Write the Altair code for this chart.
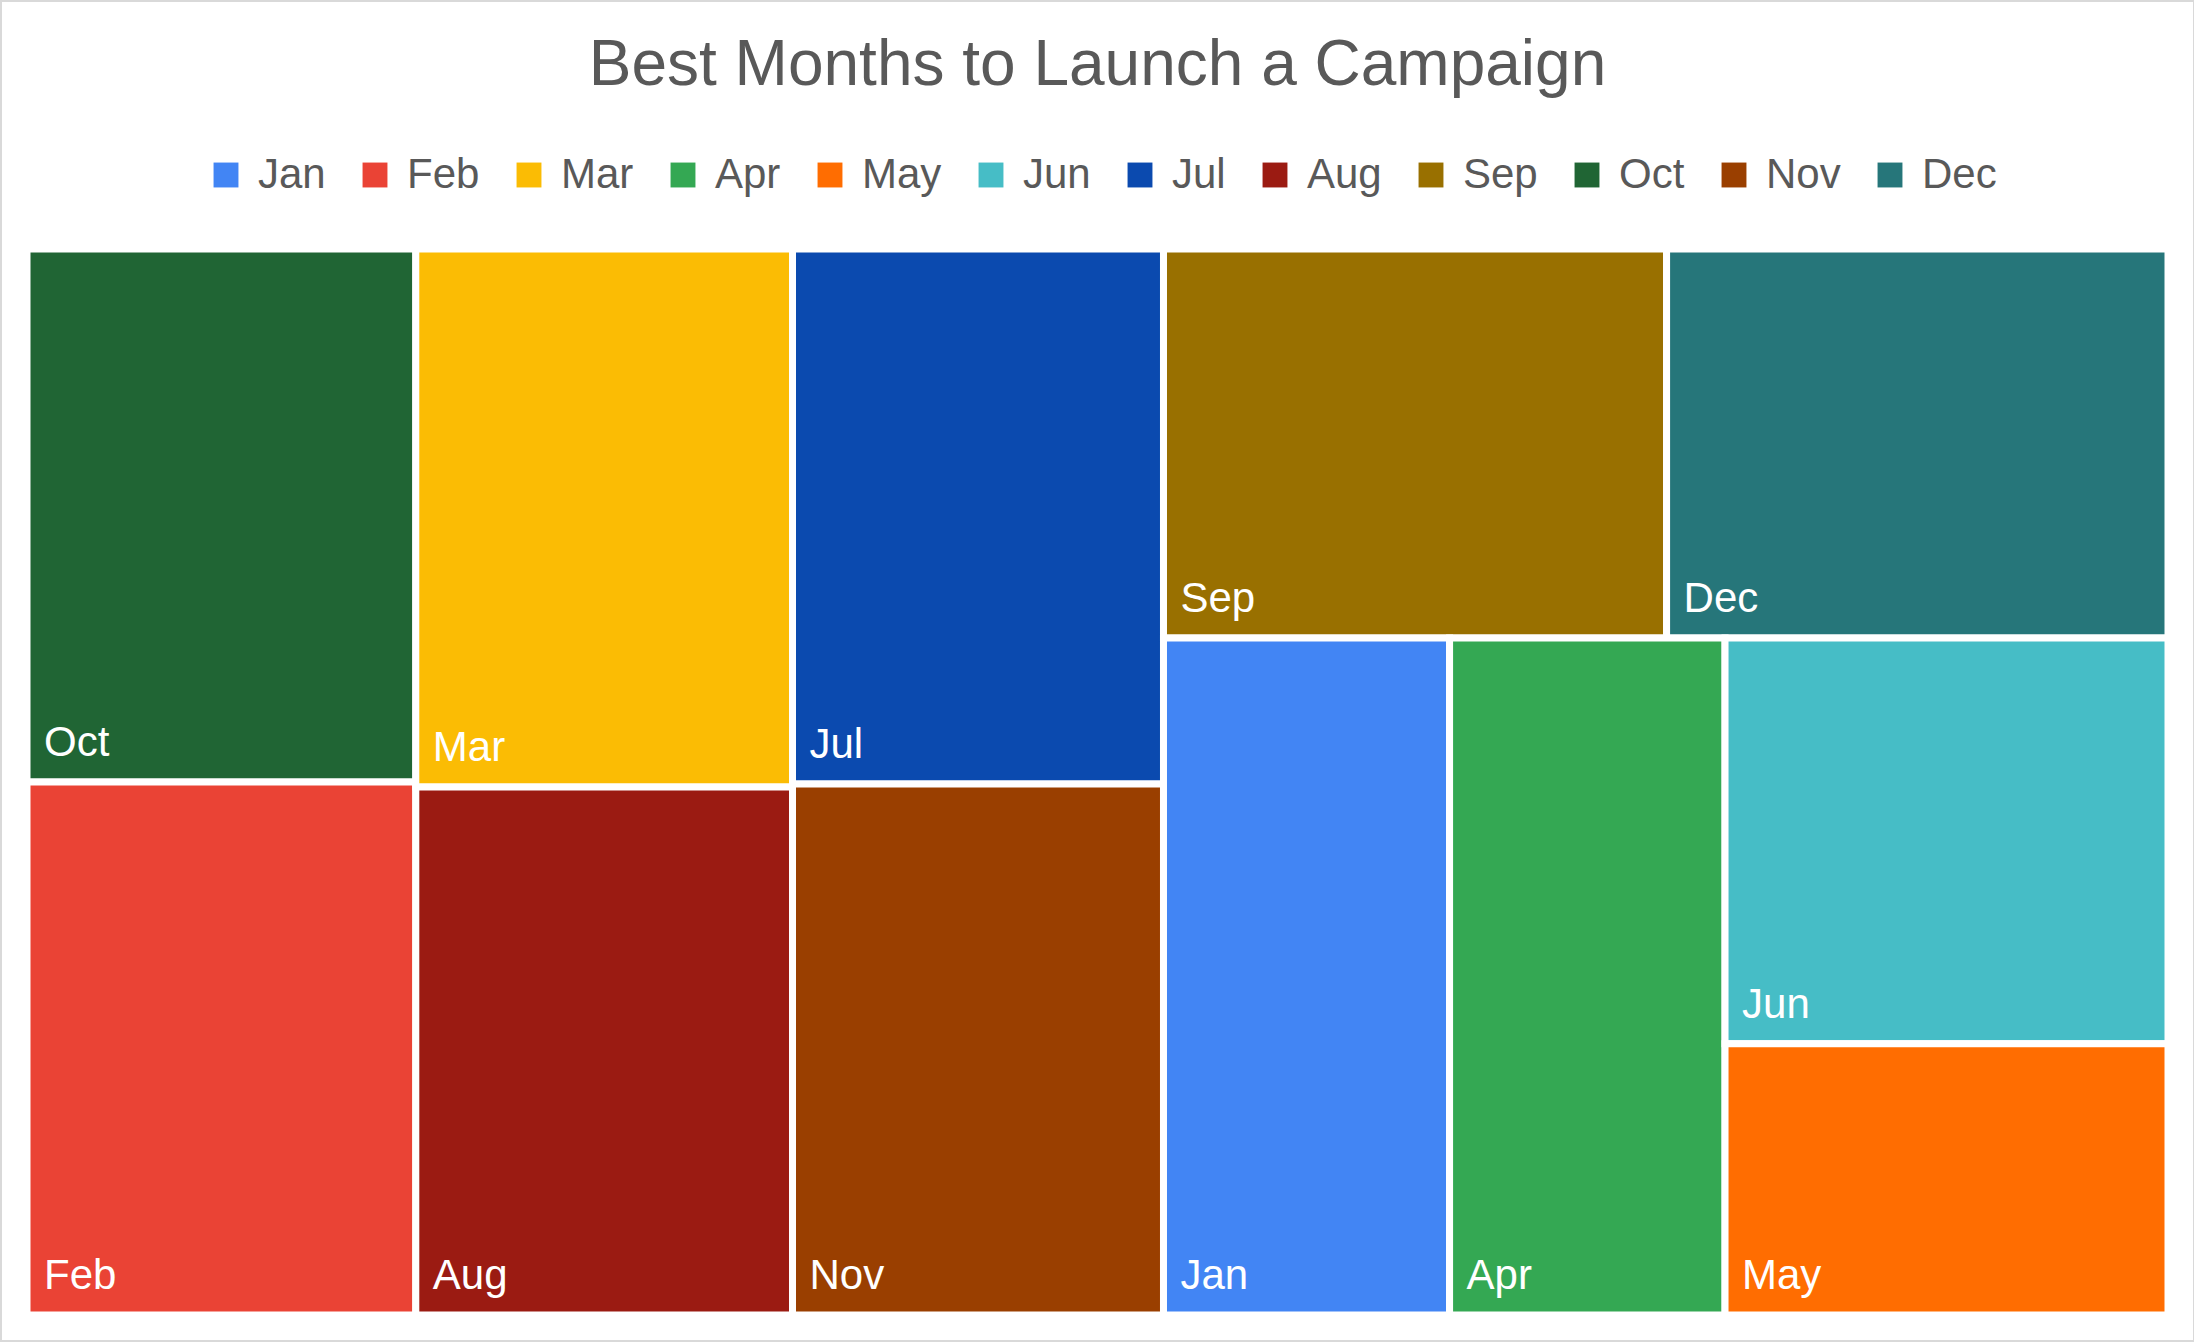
import altair as alt
import pandas as pd

MONTHS = ["Jan", "Feb", "Mar", "Apr", "May", "Jun",
          "Jul", "Aug", "Sep", "Oct", "Nov", "Dec"]
VALUES = [88.8, 95.0, 92.9, 85.5, 55.1, 82.4,
          91.0, 91.2, 89.7, 95.0, 90.3, 89.4]
COLORS = ["#4285F4", "#EA4335", "#FBBC04", "#34A853", "#FF6D01", "#46BDC6",
          "#0B4AAF", "#9B1B12", "#997000", "#206534", "#9A3F00", "#26767A"]

# Nesting of the tiles as drawn (h = split left-to-right, v = split top-to-bottom)
LAYOUT = ("h", [
    ("v", ["Oct", "Feb"]),
    ("v", ["Mar", "Aug"]),
    ("v", ["Jul", "Nov"]),
    ("v", [
        ("h", ["Sep", "Dec"]),
        ("h", ["Jan", "Apr", ("v", ["Jun", "May"])]),
    ]),
])

value_of = dict(zip(MONTHS, VALUES))


def total(node):
    if isinstance(node, str):
        return value_of[node]
    return sum(total(c) for c in node[1])


def place(node, x0, y0, x1, y1, out):
    if isinstance(node, str):
        out.append({"month": node, "value": value_of[node],
                    "x0": x0, "x1": x1, "y0": y0, "y1": y1})
        return
    direction, children = node
    s = total(node)
    pos = x0 if direction == "h" else y0
    for c in children:
        frac = total(c) / s
        if direction == "h":
            nxt = pos + frac * (x1 - x0)
            place(c, pos, y0, nxt, y1, out)
        else:
            nxt = pos + frac * (y1 - y0)
            place(c, x0, pos, x1, nxt, out)
        pos = nxt


rows = []
place(LAYOUT, 0.0, 0.0, 1.0, 1.0, rows)
df = pd.DataFrame(rows)

FONT = "Liberation Sans"
W, H = 2141, 1066

xs = alt.Scale(domain=[0, 1], nice=False, zero=False)
ys = alt.Scale(domain=[0, 1], nice=False, zero=False, reverse=True)

color = alt.Color(
    "month:N",
    scale=alt.Scale(domain=MONTHS, range=COLORS),
    legend=alt.Legend(
        title=None, orient="none", legendX=178, legendY=-95,
        direction="horizontal", columns=12,
        symbolType="square", symbolSize=620, symbolStrokeWidth=0,
        labelFont=FONT, labelFontSize=42, labelColor="#595959",
        labelOffset=11, columnPadding=28,
    ),
)

rects = alt.Chart(df).mark_rect(stroke="white", strokeWidth=7).encode(
    x=alt.X("x0:Q", scale=xs, axis=None),
    x2="x1:Q",
    y=alt.Y("y0:Q", scale=ys, axis=None),
    y2="y1:Q",
    color=color,
)

labels = alt.Chart(df).mark_text(
    align="left", baseline="alphabetic", dx=17, dy=-26,
    font=FONT, fontSize=42, color="white",
).encode(
    x=alt.X("x0:Q", scale=xs, axis=None),
    y=alt.Y("y1:Q", scale=ys, axis=None),
    text="month:N",
)

frame = alt.Chart(pd.DataFrame({"k": [0]})).mark_rect(
    fill=None, stroke="#D9D9D9", strokeWidth=2,
).encode(
    x=alt.value(-26), x2=alt.value(W + 26),
    y=alt.value(-248), y2=alt.value(H + 26),
)

chart = alt.layer(rects, labels, frame).properties(
    width=W, height=H,
    padding={"left": 27, "top": 249, "right": 26, "bottom": 27},
    autosize=alt.AutoSizeParams(type="none"),
    title=alt.TitleParams(
        "Best Months to Launch a Campaign",
        font=FONT, fontSize=64, fontWeight="normal", color="#595959",
        anchor="middle", frame="group", baseline="alphabetic", offset=-149,
    ),
).configure_view(strokeWidth=0).configure(background="white")

chart.save("out.html", embed_options={"renderer": "svg", "actions": False})
